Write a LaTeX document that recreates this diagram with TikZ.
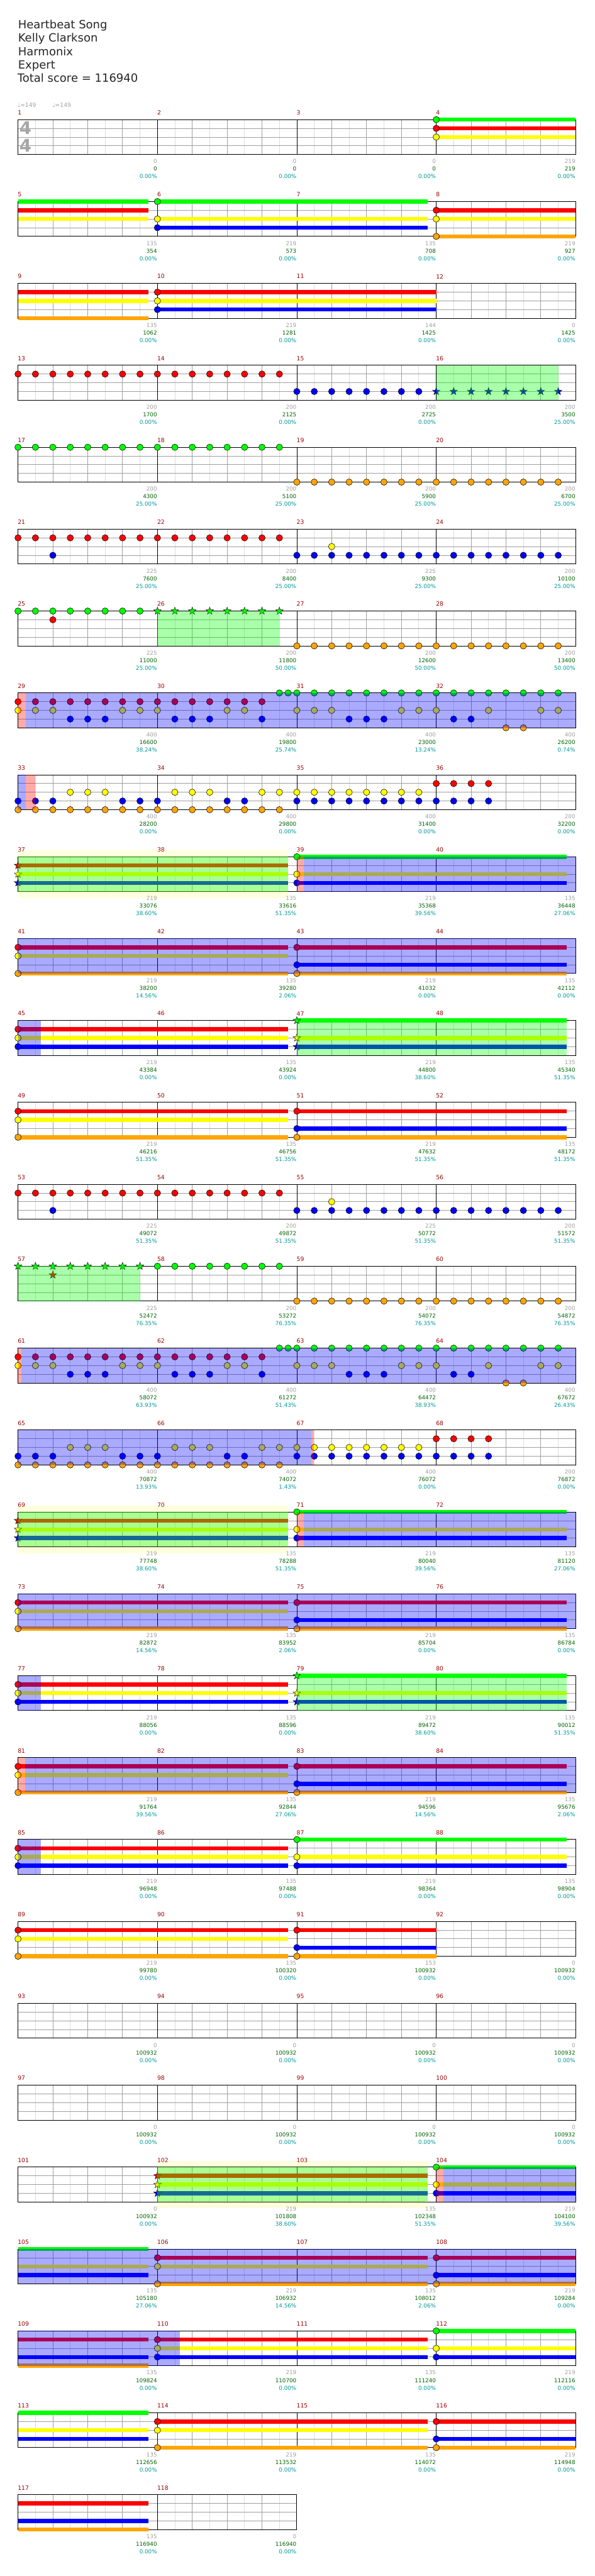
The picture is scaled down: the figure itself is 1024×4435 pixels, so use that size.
\documentclass[tikz,border=0pt]{standalone}
\usepackage{fontspec}
\setmainfont{DejaVu Sans}
\definecolor{cG}{RGB}{0,255,0}
\definecolor{cR}{RGB}{255,0,0}
\definecolor{cY}{RGB}{255,255,0}
\definecolor{cB}{RGB}{0,0,255}
\definecolor{cO}{RGB}{255,165,0}
\definecolor{mnum}{RGB}{153,0,0}
\definecolor{lgray}{RGB}{160,160,160}
\definecolor{lgreen}{RGB}{0,100,0}
\definecolor{lteal}{RGB}{0,153,153}
\definecolor{gridq}{RGB}{160,160,160}
\definecolor{gride}{RGB}{220,220,220}
\tikzset{
 gl/.style={line width=0.9pt},
 bl/.style={line width=1.1pt},
 lab/.style={font=\fontsize{9.5}{10}\selectfont,inner sep=0.5pt},
 mn/.style={font=\fontsize{10}{11}\selectfont,text=mnum,inner sep=0.5pt},
 ttl/.style={font=\fontsize{19.5}{23}\selectfont,text=black!85,inner sep=0pt},
 tempo/.style={font=\fontsize{10}{11}\selectfont,text=lgray,inner sep=0pt},
}
\newcommand\Mpos[1]{\pgfmathtruncatemacro\mr{(#1-1)/4}\pgfmathtruncatemacro\mc{#1-1-4*\mr}\pgfmathsetmacro\mx{31+240*\mc}\pgfmathsetmacro\my{206+141*\mr}}
\newcommand\Nt[4]{\Mpos{#1}\foreach \p in {#4}{\filldraw[fill=#3,draw=black,line width=0.6pt] (\mx+30*\p,\my+15*#2) circle[radius=5.5pt];}}
\newcommand\Sus[5]{\Mpos{#1}\fill[#3] (\mx+30*#4,\my+15*#2-3.5) rectangle (\mx+30*#5,\my+15*#2+3.5);}
\newcommand\Sr[4]{\Mpos{#1}\foreach \p in {#4}{\filldraw[fill=#3,draw=black,line width=0.5pt] (\mx+30*\p,\my+15*#2) +(-90:6.8) -- +(-54:2.7) -- +(-18:6.8) -- +(18:2.7) -- +(54:6.8) -- +(90:2.7) -- +(126:6.8) -- +(162:2.7) -- +(198:6.8) -- +(234:2.7) -- cycle;}}
\newcommand\Ov[4]{\Mpos{#1}\fill[#4,opacity=0.333] (\mx+30*#2,\my) rectangle (\mx+30*#3,\my+60);}
\newcommand\Lab[4]{\Mpos{#1}\node[lab,text=lgray,anchor=east] (g#1) at (\mx+240,\my+72) {#2};\node[lab,text=lgreen,anchor=east] (s#1) at (\mx+240,\my+85) {#3};\node[lab,text=lteal,anchor=east] (p#1) at (\mx+240,\my+98) {#4};}
\newcommand\StaffRow[2]{%
 \pgfmathsetmacro\ry{206+141*#1}\pgfmathtruncatemacro\nk{8*#2-1}%
 \foreach \k in {1,3,...,\nk} \draw[gride,gl] (31+30*\k,\ry) -- ++(0,60);
 \foreach \j in {1,2,3} \draw[gridq,gl] (31,\ry+15*\j) -- ++(240*#2,0);
 \foreach \k in {2,4,...,\nk} {\pgfmathtruncatemacro\kk{mod(\k,8)}\ifnum\kk=0 \draw[black,gl] (31+30*\k,\ry) -- ++(0,60);\else \draw[gridq,gl] (31+30*\k,\ry) -- ++(0,60);\fi}
 \draw[black,bl] (31,\ry) rectangle ++(240*#2,60);
}
\newcommand\Ch[3]{\foreach \ln/\cl in {#3}{\Sus{#1}{\ln}{\cl}{0}{#2}}\foreach \ln/\cl in {#3}{\Nt{#1}{\ln}{\cl}{0}}}
\newcommand\ChS[3]{\foreach \ln/\cl in {#3}{\Sus{#1}{\ln}{\cl}{0}{#2}}\foreach \ln/\cl in {#3}{\Sr{#1}{\ln}{\cl}{0}}}
\newcommand\SusL[3]{\foreach \ln/\cl in {#3}{\Sus{#1}{\ln}{\cl}{0}{#2}}}
\newcommand\PatSix[1]{\Nt{#1}{1}{cR}{0,...,7}\Nt{#1+1}{1}{cR}{0,...,7}\Nt{#1}{3}{cB}{2}\Nt{#1+2}{3}{cB}{0,...,7}\Nt{#1+3}{3}{cB}{0,...,7}\Nt{#1+2}{2}{cY}{2}}
\newcommand\PatEight[1]{%
 \Nt{#1}{1}{cR}{0,...,7}\Nt{#1+1}{1}{cR}{0,...,6}%
 \Nt{#1}{2}{cY}{0,1,2,6,7}\Nt{#1+1}{2}{cY}{0,4,5}\Nt{#1+2}{2}{cY}{0,1,2,6,7}\Nt{#1+3}{2}{cY}{0,3,6,7}%
 \Nt{#1}{3}{cB}{3,4,5}\Nt{#1+1}{3}{cB}{1,2,3,6}\Nt{#1+2}{3}{cB}{3,4,5}\Nt{#1+3}{3}{cB}{1,2}%
 \Nt{#1+1}{0}{cG}{7,7.5}\Nt{#1+2}{0}{cG}{0,...,7}\Nt{#1+3}{0}{cG}{0,...,7}\Nt{#1+3}{4}{cO}{4,5}}
\newcommand\PatNine[1]{%
 \Nt{#1}{2}{cY}{3,4,5}\Nt{#1+1}{2}{cY}{1,2,3,6,7}\Nt{#1+2}{2}{cY}{0,...,7}%
 \Nt{#1}{3}{cB}{0,1,2,6,7}\Nt{#1+1}{3}{cB}{0,4,5}\Nt{#1+2}{3}{cB}{0,...,7}\Nt{#1+3}{3}{cB}{0,1,2,3}%
 \Nt{#1}{4}{cO}{0,...,7}\Nt{#1+1}{4}{cO}{0,...,7}\Nt{#1+3}{1}{cR}{0,1,2,3}}
\newcommand\YBox[1]{\Mpos{#1}\fill[cY,opacity=0.13] (\mx,\my-11) rectangle (\mx+465,\my+71);}
\begin{document}
\begin{tikzpicture}[x=1pt,y=-1pt]
\useasboundingbox (0,0) rectangle (1024,4435);
\fill[white] (0,0) rectangle (1024,4435);
\node[ttl,anchor=base west] (t1) at (31,49.3) {Heartbeat Song};
\node[ttl,anchor=base west] (t2) at (31,72.3) {Kelly Clarkson};
\node[ttl,anchor=base west] (t3) at (31,95.5) {Harmonix};
\node[ttl,anchor=base west] (t4) at (31,118.5) {Expert};
\node[ttl,anchor=base west] (t5) at (30,141.5) {Total score = 116940};
\node[tempo,anchor=base west] (tp1) at (30,185) {♩=149};
\node[tempo,anchor=base west] (tp2) at (90,185) {♩=149};
\foreach \r in {0,...,28} {\StaffRow{\r}{4}}
\StaffRow{29}{2}
\node[font=\bfseries\fontsize{30}{30}\selectfont,text=black!35,inner sep=0pt] (ts1) at (44,220.5) {4};
\node[font=\bfseries\fontsize{30}{30}\selectfont,text=black!35,inner sep=0pt] (ts2) at (44,250.5) {4};
\foreach \m in {1,...,118} {\Mpos{\m}\node[mn,anchor=west] (m\m) at (\mx-1,\my-12) {\m};}
% rows 1-3
\Ch{4}{8}{0/cG,1/cR,2/cY}
\SusL{5}{7.5}{0/cG,1/cR,2/cY}
\Ch{6}{15.5}{0/cG,2/cY,3/cB}
\Ch{8}{8}{1/cR,2/cY,4/cO}
\SusL{9}{7.5}{1/cR,2/cY,4/cO}
\Ch{10}{16}{1/cR,2/cY,3/cB}
% rows 4-7
\Nt{13}{1}{cR}{0,...,7}\Nt{14}{1}{cR}{0,...,7}
\Nt{15}{3}{cB}{0,...,7}\Sr{16}{3}{cB}{0,...,7}\Ov{16}{0}{7}{cG}
\Nt{17}{0}{cG}{0,...,7}\Nt{18}{0}{cG}{0,...,7}
\Nt{19}{4}{cO}{0,...,7}\Nt{20}{4}{cO}{0,...,7}
\PatSix{21}
\Nt{25}{0}{cG}{0,...,7}\Nt{25}{1}{cR}{2}\Sr{26}{0}{cG}{0,...,7}\Ov{26}{0}{7}{cG}
\Nt{27}{4}{cO}{0,...,7}\Nt{28}{4}{cO}{0,...,7}
% rows 8-9
\PatEight{29}\Ov{29}{0}{0.45}{cR}\Ov{29}{0.45}{32}{cB}
\PatNine{33}\Ov{33}{0}{0.45}{cB}\Ov{33}{0.45}{1}{cR}
% rows 10-13
\ChS{37}{15.5}{1/cR,2/cY,3/cB}\Ch{39}{15.5}{0/cG,2/cY,3/cB}
\YBox{37}\Ov{37}{0}{15.5}{cG}\Ov{39}{0}{0.4}{cR}\Ov{39}{0.4}{16}{cB}
\Ch{41}{15.5}{1/cR,2/cY,4/cO}\Ch{43}{15.5}{1/cR,3/cB,4/cO}\Ov{41}{0}{32}{cB}
\Ch{45}{15.5}{1/cR,2/cY,3/cB}\ChS{47}{15.5}{0/cG,2/cY,3/cB}
\Ov{45}{0}{1.3}{cB}\Ov{47}{0}{15.5}{cG}
\Ch{49}{15.5}{1/cR,2/cY,4/cO}\Ch{51}{15.5}{1/cR,3/cB,4/cO}
% rows 14-19
\PatSix{53}
\Sr{57}{0}{cG}{0,...,7}\Sr{57}{1}{cR}{2}\Nt{58}{0}{cG}{0,...,7}
\Nt{59}{4}{cO}{0,...,7}\Nt{60}{4}{cO}{0,...,7}\Ov{57}{0}{7}{cG}
\PatEight{61}\Ov{61}{0}{0.2}{cR}\Ov{61}{0.2}{32}{cB}
\PatNine{65}\Ov{65}{0}{16.85}{cB}\Ov{65}{16.85}{16.97}{cR}
\ChS{69}{15.5}{1/cR,2/cY,3/cB}\Ch{71}{15.5}{0/cG,2/cY,3/cB}
\YBox{69}\Ov{69}{0}{15.5}{cG}\Ov{71}{0}{0.4}{cR}\Ov{71}{0.4}{16}{cB}
\Ch{73}{15.5}{1/cR,2/cY,4/cO}\Ch{75}{15.5}{1/cR,3/cB,4/cO}\Ov{73}{0}{32}{cB}
% rows 20-23
\Ch{77}{15.5}{1/cR,2/cY,3/cB}\ChS{79}{15.5}{0/cG,2/cY,3/cB}
\Ov{77}{0}{1.3}{cB}\Ov{79}{0}{15.5}{cG}
\Ch{81}{15.5}{1/cR,2/cY,4/cO}\Ch{83}{15.5}{1/cR,3/cB,4/cO}
\Ov{81}{0}{0.4}{cR}\Ov{81}{0.4}{32}{cB}
\Ch{85}{15.5}{1/cR,2/cY,3/cB}\Ch{87}{15.5}{0/cG,2/cY,3/cB}\Ov{85}{0}{1.3}{cB}
\Ch{89}{15.5}{1/cR,2/cY,4/cO}\Ch{91}{8}{1/cR,3/cB,4/cO}
% rows 26-30
\ChS{102}{15.5}{1/cR,2/cY,3/cB}\Ch{104}{8}{0/cG,2/cY,3/cB}
\YBox{102}\Ov{102}{0}{15.5}{cG}\Ov{104}{0}{0.4}{cR}\Ov{104}{0.4}{8}{cB}
\SusL{105}{7.5}{0/cG,2/cY,3/cB}
\Ch{106}{15.5}{1/cR,2/cY,4/cO}\Ch{108}{8}{1/cR,3/cB,4/cO}\Ov{105}{0}{32}{cB}
\SusL{109}{7.5}{1/cR,3/cB,4/cO}
\Ch{110}{15.5}{1/cR,2/cY,3/cB}\Ch{112}{8}{0/cG,2/cY,3/cB}\Ov{109}{0}{9.3}{cB}
\SusL{113}{7.5}{0/cG,2/cY,3/cB}
\Ch{114}{15.5}{1/cR,2/cY,4/cO}\Ch{116}{8}{1/cR,3/cB,4/cO}
\SusL{117}{7.5}{1/cR,3/cB,4/cO}
% labels
\Lab{1}{0}{0}{0.00\%}\Lab{2}{0}{0}{0.00\%}\Lab{3}{0}{0}{0.00\%}\Lab{4}{219}{219}{0.00\%}
\Lab{5}{135}{354}{0.00\%}\Lab{6}{219}{573}{0.00\%}\Lab{7}{135}{708}{0.00\%}\Lab{8}{219}{927}{0.00\%}
\Lab{9}{135}{1062}{0.00\%}\Lab{10}{219}{1281}{0.00\%}\Lab{11}{144}{1425}{0.00\%}\Lab{12}{0}{1425}{0.00\%}
\Lab{13}{200}{1700}{0.00\%}\Lab{14}{200}{2125}{0.00\%}\Lab{15}{200}{2725}{0.00\%}\Lab{16}{200}{3500}{25.00\%}
\Lab{17}{200}{4300}{25.00\%}\Lab{18}{200}{5100}{25.00\%}\Lab{19}{200}{5900}{25.00\%}\Lab{20}{200}{6700}{25.00\%}
\Lab{21}{225}{7600}{25.00\%}\Lab{22}{200}{8400}{25.00\%}\Lab{23}{225}{9300}{25.00\%}\Lab{24}{200}{10100}{25.00\%}
\Lab{25}{225}{11000}{25.00\%}\Lab{26}{200}{11800}{50.00\%}\Lab{27}{200}{12600}{50.00\%}\Lab{28}{200}{13400}{50.00\%}
\Lab{29}{400}{16600}{38.24\%}\Lab{30}{400}{19800}{25.74\%}\Lab{31}{400}{23000}{13.24\%}\Lab{32}{400}{26200}{0.74\%}
\Lab{33}{400}{28200}{0.00\%}\Lab{34}{400}{29800}{0.00\%}\Lab{35}{400}{31400}{0.00\%}\Lab{36}{200}{32200}{0.00\%}
\Lab{37}{219}{33076}{38.60\%}\Lab{38}{135}{33616}{51.35\%}\Lab{39}{219}{35368}{39.56\%}\Lab{40}{135}{36448}{27.06\%}
\Lab{41}{219}{38200}{14.56\%}\Lab{42}{135}{39280}{2.06\%}\Lab{43}{219}{41032}{0.00\%}\Lab{44}{135}{42112}{0.00\%}
\Lab{45}{219}{43384}{0.00\%}\Lab{46}{135}{43924}{0.00\%}\Lab{47}{219}{44800}{38.60\%}\Lab{48}{135}{45340}{51.35\%}
\Lab{49}{219}{46216}{51.35\%}\Lab{50}{135}{46756}{51.35\%}\Lab{51}{219}{47632}{51.35\%}\Lab{52}{135}{48172}{51.35\%}
\Lab{53}{225}{49072}{51.35\%}\Lab{54}{200}{49872}{51.35\%}\Lab{55}{225}{50772}{51.35\%}\Lab{56}{200}{51572}{51.35\%}
\Lab{57}{225}{52472}{76.35\%}\Lab{58}{200}{53272}{76.35\%}\Lab{59}{200}{54072}{76.35\%}\Lab{60}{200}{54872}{76.35\%}
\Lab{61}{400}{58072}{63.93\%}\Lab{62}{400}{61272}{51.43\%}\Lab{63}{400}{64472}{38.93\%}\Lab{64}{400}{67672}{26.43\%}
\Lab{65}{400}{70872}{13.93\%}\Lab{66}{400}{74072}{1.43\%}\Lab{67}{400}{76072}{0.00\%}\Lab{68}{200}{76872}{0.00\%}
\Lab{69}{219}{77748}{38.60\%}\Lab{70}{135}{78288}{51.35\%}\Lab{71}{219}{80040}{39.56\%}\Lab{72}{135}{81120}{27.06\%}
\Lab{73}{219}{82872}{14.56\%}\Lab{74}{135}{83952}{2.06\%}\Lab{75}{219}{85704}{0.00\%}\Lab{76}{135}{86784}{0.00\%}
\Lab{77}{219}{88056}{0.00\%}\Lab{78}{135}{88596}{0.00\%}\Lab{79}{219}{89472}{38.60\%}\Lab{80}{135}{90012}{51.35\%}
\Lab{81}{219}{91764}{39.56\%}\Lab{82}{135}{92844}{27.06\%}\Lab{83}{219}{94596}{14.56\%}\Lab{84}{135}{95676}{2.06\%}
\Lab{85}{219}{96948}{0.00\%}\Lab{86}{135}{97488}{0.00\%}\Lab{87}{219}{98364}{0.00\%}\Lab{88}{135}{98904}{0.00\%}
\Lab{89}{219}{99780}{0.00\%}\Lab{90}{135}{100320}{0.00\%}\Lab{91}{153}{100932}{0.00\%}\Lab{92}{0}{100932}{0.00\%}
\foreach \m in {93,...,101} {\Lab{\m}{0}{100932}{0.00\%}}
\Lab{102}{219}{101808}{38.60\%}\Lab{103}{135}{102348}{51.35\%}\Lab{104}{219}{104100}{39.56\%}
\Lab{105}{135}{105180}{27.06\%}\Lab{106}{219}{106932}{14.56\%}\Lab{107}{135}{108012}{2.06\%}\Lab{108}{219}{109284}{0.00\%}
\Lab{109}{135}{109824}{0.00\%}\Lab{110}{219}{110700}{0.00\%}\Lab{111}{135}{111240}{0.00\%}\Lab{112}{219}{112116}{0.00\%}
\Lab{113}{135}{112656}{0.00\%}\Lab{114}{219}{113532}{0.00\%}\Lab{115}{135}{114072}{0.00\%}\Lab{116}{219}{114948}{0.00\%}
\Lab{117}{135}{116940}{0.00\%}\Lab{118}{0}{116940}{0.00\%}
\end{tikzpicture}
\end{document}
